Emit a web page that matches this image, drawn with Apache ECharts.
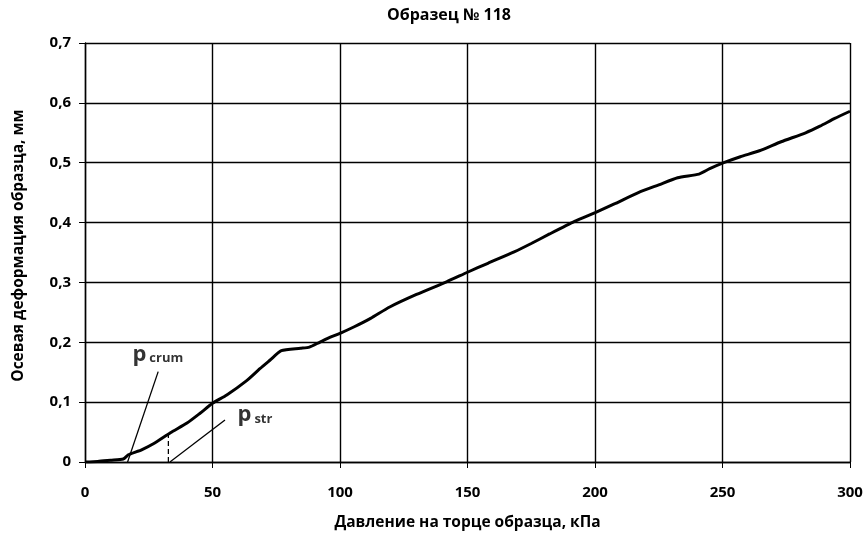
<!DOCTYPE html>
<html>
<head>
<meta charset="utf-8">
<script src="https://cdn.jsdelivr.net/npm/echarts@6/dist/echarts.min.js"></script>
<style>
  html, body { margin: 0; padding: 0; background: #fff; }
  #chart { width: 867px; height: 541px; }
</style>
</head>
<body>
<div id="chart"></div>
<script>
// давление, кПа
const pressure = [0, 5, 10, 15, 17, 20, 22, 27, 33.5, 40, 45, 50, 55.6, 63.4, 68.6, 72.5, 77, 84.5, 88, 92, 96, 100,
  105.6, 112, 119.5, 130, 141.8, 150, 158, 168.3, 175, 182.2, 192, 200.3, 208, 217, 225, 232.4, 240.8, 245, 250.5,
  257, 264.5, 273, 282.6, 288.2, 294, 300];
// осевая деформация, мм
const deformation = [0, 0.001, 0.003, 0.005, 0.012, 0.017, 0.02, 0.031, 0.049, 0.065, 0.081, 0.098, 0.112, 0.136,
  0.156, 0.170, 0.186, 0.190, 0.192, 0.200, 0.208, 0.215, 0.226, 0.240, 0.259, 0.280, 0.301, 0.317, 0.332, 0.351,
  0.365, 0.381, 0.402, 0.417, 0.432, 0.450, 0.463, 0.475, 0.481, 0.490, 0.500, 0.510, 0.520, 0.535, 0.550, 0.561,
  0.574, 0.586];

// выноски p crum и p str
const crumLine = [[16.3, -0.005], [28.7, 0.151]];
const strLine = [[33.3, 0], [54.9, 0.070]];
const strDash = [[32.7, 0], [32.7, 0.048]];
const crumLabel = [18.6, 0.18];
const strLabel = [59.8, 0.079];

const font = 'Open Sans, Noto Sans, sans-serif';
const chart = echarts.init(document.getElementById('chart'));

const labelRich = {
  p: { fontSize: 22, fontWeight: 'bold', color: '#000', fontFamily: font },
  s: { fontSize: 13, fontWeight: 'bold', color: '#000', fontFamily: font, padding: [9, 0, 0, 3] }
};

chart.setOption({
  animation: false,
  title: {
    text: 'Образец № 118',
    left: 444, top: 2, textAlign: 'center',
    textStyle: { fontSize: 16, fontWeight: 'bold', color: '#000', fontFamily: font }
  },
  grid: { left: 85, right: 17, top: 43, bottom: 79 },
  xAxis: {
    type: 'value', min: 0, max: 300, interval: 50,
    name: 'Давление на торце образца, кПа',
    nameLocation: 'middle', nameGap: 53,
    nameTextStyle: { fontSize: 15.5, fontWeight: 'bold', color: '#000', fontFamily: font },
    axisLine: { lineStyle: { color: '#000', width: 1.4 } },
    axisTick: { show: true, length: 6, lineStyle: { color: '#000' } },
    axisLabel: { fontSize: 15, fontWeight: 'bold', color: '#000', fontFamily: font, margin: 23 },
    splitLine: { show: true, lineStyle: { color: '#000', width: 1.4 } }
  },
  yAxis: {
    type: 'value', min: 0, max: 0.7, interval: 0.1,
    name: 'Осевая деформация образца, мм',
    nameLocation: 'middle', nameGap: 58,
    nameTextStyle: { fontSize: 15.5, fontWeight: 'bold', color: '#000', fontFamily: font, padding: [0, 0, 0, 14] },
    axisLine: { show: true, lineStyle: { color: '#000', width: 1.4 } },
    axisTick: { show: true, length: 6, lineStyle: { color: '#000' } },
    axisLabel: {
      fontSize: 15, fontWeight: 'bold', color: '#000', fontFamily: font, margin: 14,
      formatter: v => String(Math.round(v * 10) / 10).replace('.', ',')
    },
    splitLine: { show: true, lineStyle: { color: '#000', width: 1.4 } }
  },
  series: [
    {
      type: 'line', data: pressure.map((p, i) => [p, deformation[i]]),
      showSymbol: false, smooth: 0.2,
      lineStyle: { color: '#000', width: 3 }, z: 5
    },
    {
      type: 'line', data: crumLine, showSymbol: false,
      lineStyle: { color: '#000', width: 1.3 }
    },
    {
      type: 'line', data: strLine, showSymbol: false,
      lineStyle: { color: '#000', width: 1.3 }
    },
    {
      type: 'line', data: strDash, showSymbol: false,
      lineStyle: { color: '#000', width: 1.3, type: [5, 3] }
    },
    {
      type: 'scatter', symbolSize: 0,
      data: [
        { value: crumLabel, label: { formatter: '{p|p}{s|crum}' } },
        { value: strLabel, label: { formatter: '{p|p}{s|str}' } }
      ],
      label: { show: true, position: 'right', distance: 0, rich: labelRich },
      z: 6
    }
  ]
});
</script>
</body>
</html>
